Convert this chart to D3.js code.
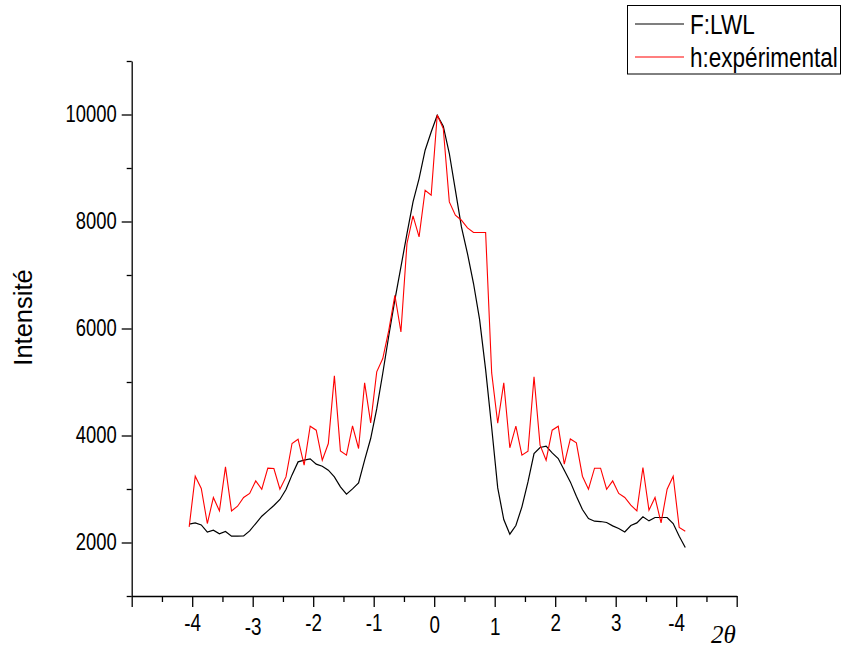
<!DOCTYPE html>
<html>
<head>
<meta charset="utf-8">
<script src="https://cdn.jsdelivr.net/npm/d3@7"></script>
<style>
  html, body { margin: 0; padding: 0; background: #fff; }
  svg { display: block; }
  .narrow { font-family: "Liberation Sans", Arial, sans-serif; }
</style>
</head>
<body>
<svg id="chart" width="842" height="654"></svg>
<script>
// ---- data ----
const angles = [-4.05,-3.95,-3.85,-3.75,-3.65,-3.55,-3.45,-3.35,-3.25,-3.15,-3.05,-2.95,-2.85,-2.75,-2.65,-2.55,-2.45,-2.35,-2.25,-2.15,-2.05,-1.95,-1.85,-1.75,-1.65,-1.55,-1.45,-1.35,-1.25,-1.15,-1.05,-0.95,-0.85,-0.75,-0.65,-0.55,-0.45,-0.35,-0.25,-0.15,-0.05,0.05,0.15,0.25,0.35,0.45,0.55,0.65,0.75,0.85,0.95,1.05,1.15,1.25,1.35,1.45,1.55,1.65,1.75,1.85,1.95,2.05,2.15,2.25,2.35,2.45,2.55,2.65,2.75,2.85,2.95,3.05,3.15,3.25,3.35,3.45,3.55,3.65,3.75,3.85,3.95,4.05,4.15];
const lwl = [2342,2366,2329,2193,2230,2161,2206,2118,2120,2122,2217,2355,2492,2591,2691,2804,2990,3264,3507,3539,3563,3464,3426,3351,3226,3039,2903,3002,3114,3539,3944,4497,5164,5869,6534,7150,7775,8366,8803,9332,9674,9986,9781,9271,8585,7899,7401,6841,6170,5230,4150,3020,2430,2155,2318,2666,3133,3663,3776,3800,3675,3570,3351,3133,2865,2617,2449,2398,2392,2374,2311,2262,2198,2318,2366,2479,2404,2467,2467,2467,2355,2118,1907];
const experimental = [2292,3239,3009,2355,2841,2591,3413,2591,2678,2841,2916,3151,2996,3389,3383,2996,3226,3850,3931,3445,4174,4099,3539,3850,5114,3712,3632,4180,3757,4983,4236,5189,5439,5968,6622,5936,7589,8104,7712,8585,8491,9990,9738,8366,8117,8024,7880,7794,7794,7794,5170,4230,4983,3770,4177,3632,3706,5095,3819,3538,4099,4174,3464,3936,3862,3239,2996,3389,3389,2996,3151,2916,2841,2697,2591,3402,2604,2841,2366,2996,3239,2280,2211];
const seriesNames = ["F:LWL", "h:expérimental"];
const xTickValues = [-4,-3,-2,-1,0,1,2,3,4];
const xTickLabels = ["-4","-3","-2","-1","0","1","2","3","-4"];
const xEndTicks = [-5,5];
const xMinorTicks = [-4.5,-3.5,-2.5,-1.5,-0.5,0.5,1.5,2.5,3.5,4.5];
const yTickValues = [2000,4000,6000,8000,10000];
const yMinorTicks = [1000,3000,5000,7000,9000,11000];
const yTitle = "Intensité";
const xTitle = "2θ";

// ---- layout ----
const svg = d3.select("#chart");
const x = d3.scaleLinear().domain([-5, 5]).range([131.7, 736.7]);
const y = d3.scaleLinear().domain([1000, 11000]).range([596, 61]);
const labelDy = {"-3": 4, "0": 2, "1": 4};
const SX = 0.8;   // horizontal compression of tick labels
const SXL = 0.82; // horizontal compression of legend labels

// y axis minor
svg.append("g").attr("transform", "translate(131.7,0)")
  .call(d3.axisLeft(y).tickValues(yMinorTicks).tickSize(5).tickSizeOuter(0).tickFormat(""))
  .call(g => g.selectAll("line").attr("stroke", "#000").attr("stroke-width", 1.3))
  .call(g => g.select(".domain").attr("stroke", "#000").attr("stroke-width", 1.3));
// y axis major
svg.append("g").attr("transform", "translate(131.7,0)")
  .call(d3.axisLeft(y).tickValues(yTickValues).tickSize(10).tickPadding(5).tickSizeOuter(0).tickFormat(d3.format("d")))
  .call(g => g.select(".domain").remove())
  .call(g => g.selectAll("line").attr("stroke", "#000").attr("stroke-width", 1.3))
  .call(g => g.selectAll("text").attr("class", "narrow").attr("font-size", 23).attr("fill", "#000")
      .attr("x", -15 / SX).attr("transform", `scale(${SX},1)`));

// x axis minor
svg.append("g").attr("transform", "translate(0,596)")
  .call(d3.axisBottom(x).tickValues(xMinorTicks).tickSize(6).tickSizeOuter(0).tickFormat(""))
  .call(g => g.selectAll("line").attr("stroke", "#000").attr("stroke-width", 1.3))
  .call(g => g.select(".domain").attr("stroke", "#000").attr("stroke-width", 1.3));
// x axis major
svg.append("g").attr("transform", "translate(0,596)")
  .call(d3.axisBottom(x).tickValues(xTickValues.concat(xEndTicks)).tickSize(11).tickSizeOuter(0)
    .tickFormat(d => { const i = xTickValues.indexOf(d); return i >= 0 ? xTickLabels[i] : ""; }))
  .call(g => g.select(".domain").remove())
  .call(g => g.selectAll("line").attr("stroke", "#000").attr("stroke-width", 1.3))
  .call(g => g.selectAll("text").attr("class", "narrow").attr("font-size", 23.5).attr("fill", "#000")
      .attr("dy", null).attr("y", d => 35.5 + (labelDy[String(d)] || 0))
      .attr("transform", `scale(${SX},1)`));

// axis titles
svg.append("text")
  .attr("transform", "translate(32,317.5) rotate(-90)")
  .attr("text-anchor", "middle")
  .attr("font-family", "'Liberation Sans', Arial, sans-serif")
  .attr("font-size", 25.5)
  .text(yTitle);
svg.append("text")
  .attr("x", 711).attr("y", 643)
  .attr("font-family", "'Liberation Serif', 'Times New Roman', serif")
  .attr("font-style", "italic")
  .attr("font-size", 25)
  .text(xTitle);

// lines
const line = vals => d3.line().x((d, i) => x(angles[i])).y(d => y(d))(vals);
svg.append("path").attr("d", line(lwl)).attr("fill", "none").attr("stroke", "#000").attr("stroke-width", 1.2);
svg.append("path").attr("d", line(experimental)).attr("fill", "none").attr("stroke", "#ff0000").attr("stroke-width", 1.1);

// legend
const lg = svg.append("g");
lg.append("rect").attr("x", 627.5).attr("y", 5.5).attr("width", 213).attr("height", 68.5)
  .attr("fill", "#fff").attr("stroke", "#000").attr("stroke-width", 1);
const legendColors = ["#000", "#ff0000"];
const legendY = [24, 57];
seriesNames.forEach((name, i) => {
  lg.append("line").attr("x1", 635).attr("x2", 684).attr("y1", legendY[i]).attr("y2", legendY[i])
    .attr("stroke", legendColors[i]).attr("stroke-width", 1.1);
  lg.append("text").attr("class", "narrow")
    .attr("transform", `translate(690,${legendY[i] + 9.5}) scale(${SXL},1)`)
    .attr("font-size", 27.5).attr("fill", "#000").text(name);
});
</script>
</body>
</html>
